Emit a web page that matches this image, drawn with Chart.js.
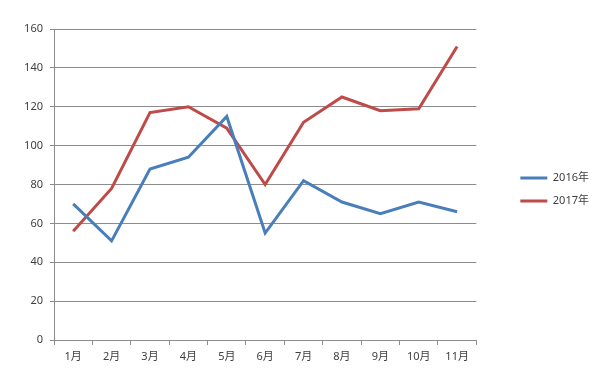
<!DOCTYPE html>
<html>
<head>
<meta charset="utf-8">
<script src="https://cdn.jsdelivr.net/npm/chart.js@4/dist/chart.umd.min.js"></script>
<style>
html,body{margin:0;padding:0;background:#fff;}
#wrap{width:600px;height:381px;}
</style>
</head>
<body>
<div id="wrap"><canvas id="c" width="600" height="381"></canvas></div>
<script>
const categories = ['1月','2月','3月','4月','5月','6月','7月','8月','9月','10月','11月'];
const series2016 = [70, 51, 88, 94, 115, 55, 82, 71, 65, 71, 66];
const series2017 = [56, 78, 117, 120, 109, 80, 112, 125, 118, 119, 151];
const seriesNames = ['2016年', '2017年'];
const yMin = 0, yMax = 160, yStep = 20;

const FONT = "'Noto Sans', 'Noto Sans CJK SC', sans-serif";
const GRID = '#8c8c8c';
const TEXT = '#404040';

// nudge the legend box inside the space reserved on the right
const legendShift = {
  id: 'legendShift',
  afterLayout(chart) {
    const l = chart.legend;
    if (!l) return;
    l.left += 32; l.right += 32;
    l.top += 5; l.bottom += 5;
  }
};

new Chart(document.getElementById('c'), {
  type: 'line',
  data: {
    labels: categories,
    datasets: [
      { label: seriesNames[0], data: series2016, borderColor: '#4a7ebb', backgroundColor: '#4a7ebb', borderWidth: 3, pointRadius: 0, tension: 0 },
      { label: seriesNames[1], data: series2017, borderColor: '#be4b48', backgroundColor: '#be4b48', borderWidth: 3, pointRadius: 0, tension: 0 }
    ]
  },
  plugins: [legendShift],
  options: {
    responsive: false,
    animation: false,
    devicePixelRatio: 1,
    layout: { padding: { top: 29, left: 0, right: 33, bottom: 0 } },
    plugins: {
      tooltip: { enabled: false },
      legend: {
        position: 'right',
        fullSize: false,
        labels: {
          usePointStyle: true,
          pointStyle: 'line',
          pointStyleWidth: 27,
          boxHeight: 11,
          padding: 12,
          color: TEXT,
          font: { family: FONT, size: 11 }
        }
      }
    },
    scales: {
      x: {
        type: 'category',
        offset: true,
        grid: { display: true, drawOnChartArea: false, drawTicks: true, tickLength: 5, color: GRID, offset: true },
        border: { display: true, color: GRID },
        ticks: { color: TEXT, font: { family: FONT, size: 11 }, padding: 5, maxRotation: 0 },
        afterFit: s => { s.height = 41; }
      },
      y: {
        min: yMin, max: yMax,
        ticks: { stepSize: yStep, color: TEXT, font: { family: FONT, size: 11 }, padding: 7 },
        grid: { color: GRID, tickLength: 4 },
        border: { display: true, color: GRID },
        afterFit: s => { s.width = 54; }
      }
    }
  }
});
</script>
</body>
</html>
